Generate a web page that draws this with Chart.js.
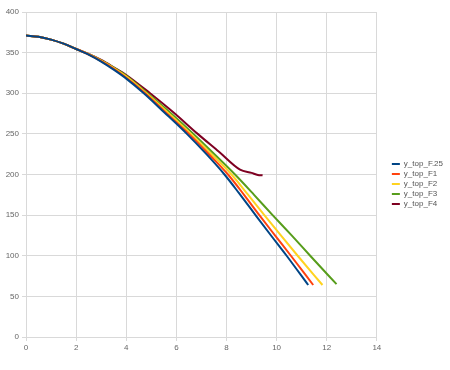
<!DOCTYPE html>
<html>
<head>
<meta charset="utf-8">
<script src="https://cdn.jsdelivr.net/npm/chart.js@4"></script>
<style>
  html, body { margin: 0; padding: 0; background: #fff; }
  #wrap { width: 450px; height: 370px; }
</style>
</head>
<body>
<div id="wrap"><canvas id="chart"></canvas></div>
<script>
// Series names and values
const seriesNames = ['y_top_F.25', 'y_top_F1', 'y_top_F2', 'y_top_F3', 'y_top_F4'];
const seriesColors = ['#004586', '#ff420e', '#ffd320', '#579d1c', '#7e0021'];

const xF25 = [0, 0.5, 1, 1.5, 2, 2.5, 3, 3.5, 4, 4.7, 5.5, 6.42, 7.2, 7.92, 8.5, 9.16, 9.8, 10.4, 11.26];
const yF25 = [371, 369.5, 366, 361, 354.5, 347.5, 339, 329, 318, 300, 277, 250, 225, 200, 177, 150, 124, 100, 64];

const xF1 = [0, 0.5, 1, 1.5, 2, 2.5, 3, 3.5, 4, 4.75, 5.55, 6.5, 7.3, 8.06, 8.7, 9.31, 9.95, 10.57, 11.46];
const yF1 = [371, 369.5, 366, 361, 354.5, 347.7, 339.5, 330, 319, 300, 277, 250, 225, 200, 175, 150, 124.5, 100, 64];

const xF2 = [0, 0.5, 1, 1.5, 2, 2.5, 3, 3.5, 4, 4.8, 5.6, 6.58, 7.4, 8.2, 8.85, 9.51, 10.17, 10.84, 11.83];
const yF2 = [371, 369.5, 366, 361, 354.5, 348, 340, 331, 320.5, 300, 278, 250, 225, 200, 175.5, 150, 125, 100, 64];

const xF3 = [0, 0.5, 1, 1.5, 2, 2.5, 3, 3.5, 4, 4.85, 5.7, 6.68, 7.5, 8.34, 9.1, 9.84, 10.6, 11.34, 12.39];
const yF3 = [371, 369.5, 366, 361, 354.5, 348, 340.5, 331.5, 321.5, 300, 277.5, 250, 225.5, 200, 175, 150, 125, 100, 65];

const xF4 = [0, 0.5, 1, 1.5, 2, 2.5, 3, 3.5, 4, 4.95, 5.9, 6.85, 7.7, 8.54, 9.0, 9.25, 9.44];
const yF4 = [371, 369.5, 366, 361, 354.5, 348.5, 341, 332, 322.5, 300, 276, 250, 228, 206, 202, 199.5, 199];

const xs = [xF25, xF1, xF2, xF3, xF4];
const ys = [yF25, yF1, yF2, yF3, yF4];

const gridColor = '#d9d9d9';
const textColor = '#666';

// nudge the legend to where the original sits
const legendShift = {
  id: 'legendShift',
  afterLayout(chart) {
    const lg = chart.legend;
    lg.left += 13; lg.right += 13;
    lg.top -= 7;   lg.bottom -= 7;
  }
};

new Chart(document.getElementById('chart'), {
  type: 'line',
  data: {
    datasets: seriesNames.map((name, i) => ({
      label:           name,
      data:            xs[i].map((x, j) => ({ x: x, y: ys[i][j] })),
      borderColor:     seriesColors[i],
      backgroundColor: seriesColors[i],
      borderWidth:     2,
      pointRadius:     0,
      cubicInterpolationMode: 'monotone',
      fill:            false
    }))
  },
  options: {
    responsive: true,
    maintainAspectRatio: false,
    animation: false,
    devicePixelRatio: 1,
    layout: { padding: { top: 12, right: 10, left: 0, bottom: 0 } },
    plugins: {
      legend: {
        position: 'right',
        labels: {
          usePointStyle:   true,
          pointStyle:      'line',
          pointStyleWidth: 8,
          boxHeight:       3,
          padding:         2,
          color:           '#555',
          font: { family: 'Liberation Sans', size: 8 }
        }
      },
      tooltip: { enabled: false }
    },
    scales: {
      x: {
        type: 'linear',
        min: 0,
        max: 14,
        ticks: { stepSize: 2, color: textColor, font: { family: 'Liberation Sans', size: 8 }, padding: 2 },
        grid:  { color: gridColor, tickLength: 4 },
        border: { color: gridColor },
        afterFit: s => { s.height = 33; }
      },
      y: {
        min: 0,
        max: 400,
        ticks: { stepSize: 50, color: textColor, font: { family: 'Liberation Sans', size: 8 }, padding: 3 },
        grid:  { color: gridColor, tickLength: 4 },
        border: { color: gridColor },
        afterFit: s => { s.width = 26; }
      }
    }
  },
  plugins: [legendShift]
});
</script>
</body>
</html>
